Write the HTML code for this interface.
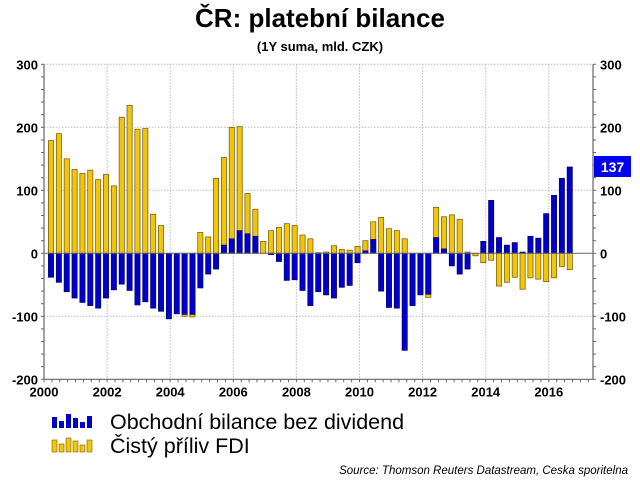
<!DOCTYPE html>
<html><head><meta charset="utf-8"><style>
body{margin:0;background:#fff;width:640px;height:484px;overflow:hidden;font-family:"Liberation Sans",sans-serif}
svg text{font-family:"Liberation Sans",sans-serif}
</style></head><body>
<svg id="c" width="640" height="484">
<text x="320" y="27" text-anchor="middle" font-size="26" font-weight="bold">ČR: platební bilance</text>
<text x="320" y="51" text-anchor="middle" font-size="13" font-weight="bold">(1Y suma, mld. CZK)</text>
<g id="grid"></g><g id="bars"></g><g id="axes"></g>
<g>
<g>
<rect x="52" y="417" width="5" height="11" fill="#0000cc"/><rect x="59" y="421" width="5" height="7" fill="#0000cc"/><rect x="66" y="414" width="5" height="14" fill="#0000cc"/><rect x="73" y="418" width="5" height="10" fill="#0000cc"/><rect x="80" y="422" width="5" height="6" fill="#0000cc"/><rect x="87" y="416" width="5" height="12" fill="#0000cc"/>
<text x="110" y="429" font-size="21.5">Obchodní bilance bez dividend</text></g>
<g>
<rect x="52" y="440" width="5" height="12" fill="#f2c40c" stroke="#7a6000" stroke-width="0.6"/><rect x="59" y="444" width="5" height="8" fill="#f2c40c" stroke="#7a6000" stroke-width="0.6"/><rect x="66" y="438" width="5" height="14" fill="#f2c40c" stroke="#7a6000" stroke-width="0.6"/><rect x="73" y="441" width="5" height="11" fill="#f2c40c" stroke="#7a6000" stroke-width="0.6"/><rect x="80" y="445" width="5" height="7" fill="#f2c40c" stroke="#7a6000" stroke-width="0.6"/><rect x="87" y="440" width="5" height="12" fill="#f2c40c" stroke="#7a6000" stroke-width="0.6"/>
<text x="110" y="453" font-size="21.5">Čistý příliv FDI</text></g>
</g>
<text x="628" y="474" text-anchor="end" font-size="11.5" font-style="italic">Source: Thomson Reuters Datastream, Ceska sporitelna</text>
</svg>
<script>
const trade=[-38,-46,-61,-71,-78,-83,-87,-71,-58,-49,-59,-82,-77,-87,-92,-104,-96,-97,-97,-55,-33,-25,13,23,36,31,27,0,-2,-13,-43,-42,-59,-83,-61,-66,-71,-54,-51,-15,4,22,-60,-86,-87,-154,-83,-66,-65,25,7,-20,-33,-25,0,19,84,25,13,17,2,27,24,63,92,119,137];
const fdi=[179,190,150,133,127,132,117,125,107,216,235,197,198,62,44,0,0,-100,-101,33,26,119,152,200,201,95,70,19,36,41,47,44,29,23,1,2,12,6,5,11,20,50,57,39,36,23,-81,-65,-70,73,58,61,54,2,-4,-15,-11,-52,-46,-38,-57,-39,-41,-45,-39,-21,-26];
const yTicks=[300,200,100,0,-100,-200];
const xYears=[2000,2002,2004,2006,2008,2010,2012,2014,2016];
const lastValue=137;
const NS='http://www.w3.org/2000/svg';
const L=44,R=593,T=64.3,B=379.3;
const y=v=>T+(300-v)*(B-T)/500;
const xYear=yr=>L+(yr-2000)*31.55;
const xIdx=i=>51+i*7.86;
function mk(tag,a,p){const e=document.createElementNS(NS,tag);for(const k in a)e.setAttribute(k,a[k]);p.appendChild(e);return e;}
const grid=document.getElementById('grid'),bars=document.getElementById('bars'),axes=document.getElementById('axes');
yTicks.forEach(v=>{
 if(v!==300&&v!==-200&&v!==0){const g=mk('line',{x1:L,x2:R,y1:y(v),y2:y(v),stroke:'#bbb','stroke-dasharray':'1.5,1.5'},grid);
 
 }
 const t1=mk('text',{x:L-6,y:y(v)+5,'text-anchor':'end','font-size':13,'font-weight':'bold'},axes);t1.textContent=v;
 
 
 const t2=mk('text',{x:R+7,y:y(v)+5,'font-size':13,'font-weight':'bold'},axes);t2.textContent=v;
 
 
});
mk('line',{x1:L,x2:R,y1:T,y2:T,stroke:'#bbb','stroke-dasharray':'1.5,1.5'},grid);
xYears.forEach(yr=>{
 if(yr>2000){const g=mk('line',{x1:xYear(yr),x2:xYear(yr),y1:T,y2:B,stroke:'#bbb','stroke-dasharray':'1.5,1.5'},grid);
 
 }
 const t=mk('text',{x:xYear(yr),y:B+17,'text-anchor':'middle','font-size':13,'font-weight':'bold'},axes);t.textContent=yr;
 
 
});
function bar(i,v,fill,stroke,name){
 if(v===0)return;
 const r=mk('rect',{x:xIdx(i)-2.6,y:Math.min(y(v),y(0)),width:5.2,height:Math.abs(y(v)-y(0)),fill:fill,stroke:stroke,'stroke-width':0.7},bars);
 
 
}
fdi.forEach((v,i)=>bar(i,v,'#f2c40c','#6b5500','bar-fdi'));
trade.forEach((v,i)=>bar(i,v,'#0000cc','#000066','bar-trade'));
mk('line',{x1:L,x2:R,y1:y(0),y2:y(0),stroke:'#666','stroke-width':1},axes);
mk('line',{x1:L,x2:L,y1:T,y2:B,stroke:'#666','stroke-width':1.2},axes);
mk('line',{x1:R,x2:R,y1:T,y2:B,stroke:'#666','stroke-width':1.2},axes);
mk('line',{x1:L,x2:R,y1:B,y2:B,stroke:'#666','stroke-width':1.2},axes);
for(let v=-200;v<=300;v+=20){mk('line',{x1:L-3,x2:L,y1:y(v),y2:y(v),stroke:'#666'},axes);mk('line',{x1:R,x2:R+3,y1:y(v),y2:y(v),stroke:'#666'},axes);}
for(let q=0;q<70;q++){const xx=L+q*31.55/4;if(xx<=R)mk('line',{x1:xx,x2:xx,y1:B,y2:B+3,stroke:'#666'},axes);}
const bx=mk('rect',{x:R+1,y:y(lastValue)-11,width:37,height:21,fill:'#0000ee'},axes);


const bt=mk('text',{x:R+19.5,y:y(lastValue)+5,'text-anchor':'middle','font-size':14,'font-weight':'bold',fill:'#fff'},axes);bt.textContent=lastValue;


</script>
</body></html>
